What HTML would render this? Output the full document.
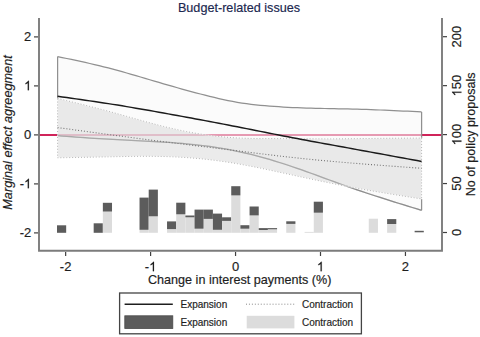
<!DOCTYPE html>
<html><head><meta charset="utf-8"><style>
html,body{margin:0;padding:0;background:#fff;width:480px;height:337px;overflow:hidden}
svg{display:block}
text{font-family:"Liberation Sans", sans-serif;stroke:#1e1e1e;stroke-width:0.18px}
.ttl{stroke:#1c2850}
</style></head><body>
<svg width="480" height="337" viewBox="0 0 480 337">
<rect width="480" height="337" fill="#fff"/>
<text class="ttl" x="239" y="11.7" font-size="13.3" fill="#1c2850" text-anchor="middle" transform="translate(239,0) scale(0.95,1) translate(-239,0)">Budget-related issues</text>
<line x1="39" y1="135.0" x2="442" y2="135.0" stroke="#d0245a" stroke-width="2"/>
<g transform="translate(0,0.3)">
<path d="M57.60,56.27 L62.21,57.23 L66.82,58.20 L71.42,59.17 L76.03,60.15 L80.64,61.15 L85.25,62.17 L89.85,63.21 L94.46,64.27 L99.07,65.37 L103.68,66.49 L108.28,67.66 L112.89,68.86 L117.50,70.10 L122.11,71.38 L126.71,72.68 L131.32,74.01 L135.93,75.35 L140.54,76.70 L145.14,78.07 L149.75,79.43 L154.36,80.78 L158.97,82.14 L163.57,83.48 L168.18,84.81 L172.79,86.13 L177.40,87.44 L182.01,88.73 L186.61,90.01 L191.22,91.27 L195.83,92.50 L200.44,93.71 L205.04,94.90 L209.65,96.06 L214.26,97.17 L218.87,98.25 L223.47,99.27 L228.08,100.24 L232.69,101.14 L237.30,101.98 L241.90,102.74 L246.51,103.41 L251.12,104.00 L255.73,104.52 L260.33,104.98 L264.94,105.39 L269.55,105.76 L274.16,106.11 L278.76,106.43 L283.37,106.73 L287.98,106.99 L292.59,107.23 L297.19,107.43 L301.80,107.60 L306.41,107.76 L311.02,107.89 L315.63,108.00 L320.23,108.10 L324.84,108.20 L329.45,108.28 L334.06,108.37 L338.66,108.46 L343.27,108.55 L347.88,108.65 L352.49,108.76 L357.09,108.89 L361.70,109.03 L366.31,109.18 L370.92,109.35 L375.52,109.52 L380.13,109.70 L384.74,109.89 L389.35,110.09 L393.95,110.30 L398.56,110.51 L403.17,110.72 L407.78,110.94 L412.38,111.16 L416.99,111.38 L421.60,111.60 L421.60,210.03 L416.99,208.63 L412.38,207.22 L407.78,205.81 L403.17,204.39 L398.56,202.97 L393.95,201.54 L389.35,200.10 L384.74,198.64 L380.13,197.17 L375.52,195.69 L370.92,194.19 L366.31,192.67 L361.70,191.12 L357.09,189.56 L352.49,187.97 L347.88,186.35 L343.27,184.71 L338.66,183.05 L334.06,181.38 L329.45,179.69 L324.84,178.00 L320.23,176.31 L315.63,174.63 L311.02,172.95 L306.41,171.30 L301.80,169.66 L297.19,168.05 L292.59,166.47 L287.98,164.93 L283.37,163.43 L278.76,161.96 L274.16,160.55 L269.55,159.17 L264.94,157.85 L260.33,156.57 L255.73,155.34 L251.12,154.17 L246.51,153.05 L241.90,151.98 L237.30,150.97 L232.69,150.03 L228.08,149.14 L223.47,148.31 L218.87,147.54 L214.26,146.83 L209.65,146.16 L205.04,145.55 L200.44,144.98 L195.83,144.46 L191.22,143.98 L186.61,143.53 L182.01,143.12 L177.40,142.75 L172.79,142.40 L168.18,142.08 L163.57,141.78 L158.97,141.50 L154.36,141.24 L149.75,140.99 L145.14,140.75 L140.54,140.53 L135.93,140.30 L131.32,140.08 L126.71,139.86 L122.11,139.64 L117.50,139.40 L112.89,139.16 L108.28,138.90 L103.68,138.63 L99.07,138.35 L94.46,138.05 L89.85,137.74 L85.25,137.43 L80.64,137.10 L76.03,136.77 L71.42,136.44 L66.82,136.10 L62.21,135.75 L57.60,135.41 Z" fill="#f8f8f8" fill-opacity="0.56" stroke="none"/>
<g fill="none" stroke="#909090" stroke-width="1.25">
<path d="M57.60,56.27 L62.21,57.23 L66.82,58.20 L71.42,59.17 L76.03,60.15 L80.64,61.15 L85.25,62.17 L89.85,63.21 L94.46,64.27 L99.07,65.37 L103.68,66.49 L108.28,67.66 L112.89,68.86 L117.50,70.10 L122.11,71.38 L126.71,72.68 L131.32,74.01 L135.93,75.35 L140.54,76.70 L145.14,78.07 L149.75,79.43 L154.36,80.78 L158.97,82.14 L163.57,83.48 L168.18,84.81 L172.79,86.13 L177.40,87.44 L182.01,88.73 L186.61,90.01 L191.22,91.27 L195.83,92.50 L200.44,93.71 L205.04,94.90 L209.65,96.06 L214.26,97.17 L218.87,98.25 L223.47,99.27 L228.08,100.24 L232.69,101.14 L237.30,101.98 L241.90,102.74 L246.51,103.41 L251.12,104.00 L255.73,104.52 L260.33,104.98 L264.94,105.39 L269.55,105.76 L274.16,106.11 L278.76,106.43 L283.37,106.73 L287.98,106.99 L292.59,107.23 L297.19,107.43 L301.80,107.60 L306.41,107.76 L311.02,107.89 L315.63,108.00 L320.23,108.10 L324.84,108.20 L329.45,108.28 L334.06,108.37 L338.66,108.46 L343.27,108.55 L347.88,108.65 L352.49,108.76 L357.09,108.89 L361.70,109.03 L366.31,109.18 L370.92,109.35 L375.52,109.52 L380.13,109.70 L384.74,109.89 L389.35,110.09 L393.95,110.30 L398.56,110.51 L403.17,110.72 L407.78,110.94 L412.38,111.16 L416.99,111.38 L421.60,111.60"/>
<path d="M57.60,135.41 L62.21,135.75 L66.82,136.10 L71.42,136.44 L76.03,136.77 L80.64,137.10 L85.25,137.43 L89.85,137.74 L94.46,138.05 L99.07,138.35 L103.68,138.63 L108.28,138.90 L112.89,139.16 L117.50,139.40 L122.11,139.64 L126.71,139.86 L131.32,140.08 L135.93,140.30 L140.54,140.53 L145.14,140.75 L149.75,140.99 L154.36,141.24 L158.97,141.50 L163.57,141.78 L168.18,142.08 L172.79,142.40 L177.40,142.75 L182.01,143.12 L186.61,143.53 L191.22,143.98 L195.83,144.46 L200.44,144.98 L205.04,145.55 L209.65,146.16 L214.26,146.83 L218.87,147.54 L223.47,148.31 L228.08,149.14 L232.69,150.03 L237.30,150.97 L241.90,151.98 L246.51,153.05 L251.12,154.17 L255.73,155.34 L260.33,156.57 L264.94,157.85 L269.55,159.17 L274.16,160.55 L278.76,161.96 L283.37,163.43 L287.98,164.93 L292.59,166.47 L297.19,168.05 L301.80,169.66 L306.41,171.30 L311.02,172.95 L315.63,174.63 L320.23,176.31 L324.84,178.00 L329.45,179.69 L334.06,181.38 L338.66,183.05 L343.27,184.71 L347.88,186.35 L352.49,187.97 L357.09,189.56 L361.70,191.12 L366.31,192.67 L370.92,194.19 L375.52,195.69 L380.13,197.17 L384.74,198.64 L389.35,200.10 L393.95,201.54 L398.56,202.97 L403.17,204.39 L407.78,205.81 L412.38,207.22 L416.99,208.63 L421.60,210.03"/>
<path d="M57.6,56.27 V98.12"/>
<path d="M421.6,111.60 V137.80 M421.6,198.62 V210.03"/>
</g>
<path d="M57.60,98.12 L62.21,99.25 L66.82,100.37 L71.42,101.50 L76.03,102.64 L80.64,103.78 L85.25,104.93 L89.85,106.10 L94.46,107.28 L99.07,108.48 L103.68,109.70 L108.28,110.93 L112.89,112.19 L117.50,113.47 L122.11,114.77 L126.71,116.07 L131.32,117.38 L135.93,118.68 L140.54,119.97 L145.14,121.26 L149.75,122.52 L154.36,123.76 L158.97,124.97 L163.57,126.14 L168.18,127.27 L172.79,128.35 L177.40,129.38 L182.01,130.36 L186.61,131.29 L191.22,132.17 L195.83,132.98 L200.44,133.75 L205.04,134.45 L209.65,135.09 L214.26,135.68 L218.87,136.20 L223.47,136.66 L228.08,137.05 L232.69,137.38 L237.30,137.65 L241.90,137.86 L246.51,138.02 L251.12,138.14 L255.73,138.22 L260.33,138.27 L264.94,138.30 L269.55,138.31 L274.16,138.30 L278.76,138.30 L283.37,138.29 L287.98,138.29 L292.59,138.31 L297.19,138.34 L301.80,138.39 L306.41,138.43 L311.02,138.48 L315.63,138.53 L320.23,138.57 L324.84,138.59 L329.45,138.60 L334.06,138.59 L338.66,138.56 L343.27,138.51 L347.88,138.46 L352.49,138.40 L357.09,138.34 L361.70,138.28 L366.31,138.22 L370.92,138.17 L375.52,138.13 L380.13,138.08 L384.74,138.04 L389.35,138.01 L393.95,137.97 L398.56,137.94 L403.17,137.91 L407.78,137.88 L412.38,137.85 L416.99,137.83 L421.60,137.80 L421.60,198.62 L416.99,197.89 L412.38,197.16 L407.78,196.43 L403.17,195.70 L398.56,194.96 L393.95,194.21 L389.35,193.46 L384.74,192.70 L380.13,191.94 L375.52,191.16 L370.92,190.37 L366.31,189.56 L361.70,188.75 L357.09,187.91 L352.49,187.07 L347.88,186.20 L343.27,185.32 L338.66,184.42 L334.06,183.50 L329.45,182.57 L324.84,181.63 L320.23,180.67 L315.63,179.71 L311.02,178.74 L306.41,177.75 L301.80,176.76 L297.19,175.77 L292.59,174.76 L287.98,173.76 L283.37,172.75 L278.76,171.75 L274.16,170.75 L269.55,169.76 L264.94,168.78 L260.33,167.82 L255.73,166.88 L251.12,165.97 L246.51,165.08 L241.90,164.23 L237.30,163.41 L232.69,162.63 L228.08,161.90 L223.47,161.21 L218.87,160.56 L214.26,159.96 L209.65,159.41 L205.04,158.89 L200.44,158.43 L195.83,158.00 L191.22,157.62 L186.61,157.28 L182.01,156.98 L177.40,156.72 L172.79,156.51 L168.18,156.34 L163.57,156.20 L158.97,156.11 L154.36,156.04 L149.75,156.01 L145.14,156.01 L140.54,156.02 L135.93,156.06 L131.32,156.12 L126.71,156.18 L122.11,156.26 L117.50,156.35 L112.89,156.44 L108.28,156.53 L103.68,156.63 L99.07,156.72 L94.46,156.80 L89.85,156.89 L85.25,156.98 L80.64,157.07 L76.03,157.15 L71.42,157.24 L66.82,157.33 L62.21,157.41 L57.60,157.50 Z" fill="#dcdcdc" fill-opacity="0.56" stroke="none"/>
<path d="M57.60,135.41 L62.21,135.75 L66.82,136.10 L71.42,136.44 L76.03,136.77 L80.64,137.10 L85.25,137.43 L89.85,137.74 L94.46,138.05 L99.07,138.35 L103.68,138.63 L108.28,138.90 L112.89,139.16 L117.50,139.40 L122.11,139.64 L126.71,139.86 L131.32,140.08 L135.93,140.30 L140.54,140.53 L145.14,140.75 L149.75,140.99 L154.36,141.24 L158.97,141.50 L163.57,141.78 L168.18,142.08 L172.79,142.40 L177.40,142.75 L182.01,143.12 L186.61,143.53 L191.22,143.98 L195.83,144.46 L200.44,144.98 L205.04,145.55 L209.65,146.16 L214.26,146.83 L218.87,147.54 L223.47,148.31 L228.08,149.14 L232.69,150.03 L237.30,150.97 L241.90,151.98 L246.51,153.05 L251.12,154.17 L255.73,155.34 L260.33,156.57 L264.94,157.85 L269.55,159.17 L274.16,160.55 L278.76,161.96 L283.37,163.43 L287.98,164.93 L292.59,166.47 L297.19,168.05 L301.80,169.66 L306.41,171.30 L311.02,172.95 L315.63,174.63 L320.23,176.31 L324.84,178.00 L329.45,179.69 L334.06,181.38 L338.66,183.05 L343.27,184.71 L347.88,186.35 L352.49,187.97 L357.09,189.56 L361.70,191.12 L366.31,192.67 L370.92,194.19 L375.52,195.69 L380.13,197.17 L384.74,198.64 L389.35,200.10 L393.95,201.54 L398.56,202.97 L403.17,204.39 L407.78,205.81 L412.38,207.22 L416.99,208.63 L421.60,210.03" fill="none" stroke="#8a8a8a" stroke-width="1.3" stroke-opacity="0.35"/>
<path d="M57.60,98.12 L62.21,99.25 L66.82,100.37 L71.42,101.50 L76.03,102.64 L80.64,103.78 L85.25,104.93 L89.85,106.10 L94.46,107.28 L99.07,108.48 L103.68,109.70 L108.28,110.93 L112.89,112.19 L117.50,113.47 L122.11,114.77 L126.71,116.07 L131.32,117.38 L135.93,118.68 L140.54,119.97 L145.14,121.26 L149.75,122.52 L154.36,123.76 L158.97,124.97 L163.57,126.14 L168.18,127.27 L172.79,128.35 L177.40,129.38 L182.01,130.36 L186.61,131.29 L191.22,132.17 L195.83,132.98 L200.44,133.75 L205.04,134.45 L209.65,135.09 L214.26,135.68 L218.87,136.20 L223.47,136.66 L228.08,137.05 L232.69,137.38 L237.30,137.65 L241.90,137.86 L246.51,138.02 L251.12,138.14 L255.73,138.22 L260.33,138.27 L264.94,138.30 L269.55,138.31 L274.16,138.30 L278.76,138.30 L283.37,138.29 L287.98,138.29 L292.59,138.31 L297.19,138.34 L301.80,138.39 L306.41,138.43 L311.02,138.48 L315.63,138.53 L320.23,138.57 L324.84,138.59 L329.45,138.60 L334.06,138.59 L338.66,138.56 L343.27,138.51 L347.88,138.46 L352.49,138.40 L357.09,138.34 L361.70,138.28 L366.31,138.22 L370.92,138.17 L375.52,138.13 L380.13,138.08 L384.74,138.04 L389.35,138.01 L393.95,137.97 L398.56,137.94 L403.17,137.91 L407.78,137.88 L412.38,137.85 L416.99,137.83 L421.60,137.80 L421.60,198.62 L416.99,197.89 L412.38,197.16 L407.78,196.43 L403.17,195.70 L398.56,194.96 L393.95,194.21 L389.35,193.46 L384.74,192.70 L380.13,191.94 L375.52,191.16 L370.92,190.37 L366.31,189.56 L361.70,188.75 L357.09,187.91 L352.49,187.07 L347.88,186.20 L343.27,185.32 L338.66,184.42 L334.06,183.50 L329.45,182.57 L324.84,181.63 L320.23,180.67 L315.63,179.71 L311.02,178.74 L306.41,177.75 L301.80,176.76 L297.19,175.77 L292.59,174.76 L287.98,173.76 L283.37,172.75 L278.76,171.75 L274.16,170.75 L269.55,169.76 L264.94,168.78 L260.33,167.82 L255.73,166.88 L251.12,165.97 L246.51,165.08 L241.90,164.23 L237.30,163.41 L232.69,162.63 L228.08,161.90 L223.47,161.21 L218.87,160.56 L214.26,159.96 L209.65,159.41 L205.04,158.89 L200.44,158.43 L195.83,158.00 L191.22,157.62 L186.61,157.28 L182.01,156.98 L177.40,156.72 L172.79,156.51 L168.18,156.34 L163.57,156.20 L158.97,156.11 L154.36,156.04 L149.75,156.01 L145.14,156.01 L140.54,156.02 L135.93,156.06 L131.32,156.12 L126.71,156.18 L122.11,156.26 L117.50,156.35 L112.89,156.44 L108.28,156.53 L103.68,156.63 L99.07,156.72 L94.46,156.80 L89.85,156.89 L85.25,156.98 L80.64,157.07 L76.03,157.15 L71.42,157.24 L66.82,157.33 L62.21,157.41 L57.60,157.50 Z" fill="none" stroke="#fff" stroke-width="1.1" stroke-opacity="0.55"/>
<path d="M57.60,98.12 L62.21,99.25 L66.82,100.37 L71.42,101.50 L76.03,102.64 L80.64,103.78 L85.25,104.93 L89.85,106.10 L94.46,107.28 L99.07,108.48 L103.68,109.70 L108.28,110.93 L112.89,112.19 L117.50,113.47 L122.11,114.77 L126.71,116.07 L131.32,117.38 L135.93,118.68 L140.54,119.97 L145.14,121.26 L149.75,122.52 L154.36,123.76 L158.97,124.97 L163.57,126.14 L168.18,127.27 L172.79,128.35 L177.40,129.38 L182.01,130.36 L186.61,131.29 L191.22,132.17 L195.83,132.98 L200.44,133.75 L205.04,134.45 L209.65,135.09 L214.26,135.68 L218.87,136.20 L223.47,136.66 L228.08,137.05 L232.69,137.38 L237.30,137.65 L241.90,137.86 L246.51,138.02 L251.12,138.14 L255.73,138.22 L260.33,138.27 L264.94,138.30 L269.55,138.31 L274.16,138.30 L278.76,138.30 L283.37,138.29 L287.98,138.29 L292.59,138.31 L297.19,138.34 L301.80,138.39 L306.41,138.43 L311.02,138.48 L315.63,138.53 L320.23,138.57 L324.84,138.59 L329.45,138.60 L334.06,138.59 L338.66,138.56 L343.27,138.51 L347.88,138.46 L352.49,138.40 L357.09,138.34 L361.70,138.28 L366.31,138.22 L370.92,138.17 L375.52,138.13 L380.13,138.08 L384.74,138.04 L389.35,138.01 L393.95,137.97 L398.56,137.94 L403.17,137.91 L407.78,137.88 L412.38,137.85 L416.99,137.83 L421.60,137.80 L421.60,198.62 L416.99,197.89 L412.38,197.16 L407.78,196.43 L403.17,195.70 L398.56,194.96 L393.95,194.21 L389.35,193.46 L384.74,192.70 L380.13,191.94 L375.52,191.16 L370.92,190.37 L366.31,189.56 L361.70,188.75 L357.09,187.91 L352.49,187.07 L347.88,186.20 L343.27,185.32 L338.66,184.42 L334.06,183.50 L329.45,182.57 L324.84,181.63 L320.23,180.67 L315.63,179.71 L311.02,178.74 L306.41,177.75 L301.80,176.76 L297.19,175.77 L292.59,174.76 L287.98,173.76 L283.37,172.75 L278.76,171.75 L274.16,170.75 L269.55,169.76 L264.94,168.78 L260.33,167.82 L255.73,166.88 L251.12,165.97 L246.51,165.08 L241.90,164.23 L237.30,163.41 L232.69,162.63 L228.08,161.90 L223.47,161.21 L218.87,160.56 L214.26,159.96 L209.65,159.41 L205.04,158.89 L200.44,158.43 L195.83,158.00 L191.22,157.62 L186.61,157.28 L182.01,156.98 L177.40,156.72 L172.79,156.51 L168.18,156.34 L163.57,156.20 L158.97,156.11 L154.36,156.04 L149.75,156.01 L145.14,156.01 L140.54,156.02 L135.93,156.06 L131.32,156.12 L126.71,156.18 L122.11,156.26 L117.50,156.35 L112.89,156.44 L108.28,156.53 L103.68,156.63 L99.07,156.72 L94.46,156.80 L89.85,156.89 L85.25,156.98 L80.64,157.07 L76.03,157.15 L71.42,157.24 L66.82,157.33 L62.21,157.41 L57.60,157.50 Z" fill="none" stroke="#b4b4b4" stroke-width="1" stroke-dasharray="1 1.95"/>
<path d="M57.60,127.26 L62.21,127.90 L66.82,128.53 L71.42,129.16 L76.03,129.79 L80.64,130.42 L85.25,131.05 L89.85,131.68 L94.46,132.30 L99.07,132.93 L103.68,133.55 L108.28,134.17 L112.89,134.79 L117.50,135.40 L122.11,136.01 L126.71,136.62 L131.32,137.23 L135.93,137.84 L140.54,138.44 L145.14,139.03 L149.75,139.63 L154.36,140.22 L158.97,140.81 L163.57,141.39 L168.18,141.97 L172.79,142.55 L177.40,143.12 L182.01,143.69 L186.61,144.26 L191.22,144.83 L195.83,145.39 L200.44,145.96 L205.04,146.52 L209.65,147.09 L214.26,147.65 L218.87,148.22 L223.47,148.79 L228.08,149.36 L232.69,149.94 L237.30,150.51 L241.90,151.09 L246.51,151.67 L251.12,152.25 L255.73,152.83 L260.33,153.40 L264.94,153.96 L269.55,154.52 L274.16,155.08 L278.76,155.62 L283.37,156.15 L287.98,156.68 L292.59,157.18 L297.19,157.68 L301.80,158.16 L306.41,158.63 L311.02,159.09 L315.63,159.54 L320.23,159.98 L324.84,160.41 L329.45,160.83 L334.06,161.24 L338.66,161.64 L343.27,162.04 L347.88,162.42 L352.49,162.80 L357.09,163.18 L361.70,163.55 L366.31,163.91 L370.92,164.27 L375.52,164.62 L380.13,164.97 L384.74,165.32 L389.35,165.66 L393.95,166.00 L398.56,166.34 L403.17,166.68 L407.78,167.01 L412.38,167.34 L416.99,167.68 L421.60,168.01" fill="none" stroke="#747474" stroke-width="1.1" stroke-dasharray="1 1.95"/>
<path d="M57.60,96.01 L62.21,96.65 L66.82,97.29 L71.42,97.94 L76.03,98.59 L80.64,99.24 L85.25,99.90 L89.85,100.56 L94.46,101.24 L99.07,101.92 L103.68,102.62 L108.28,103.33 L112.89,104.06 L117.50,104.79 L122.11,105.54 L126.71,106.31 L131.32,107.08 L135.93,107.87 L140.54,108.66 L145.14,109.46 L149.75,110.27 L154.36,111.09 L158.97,111.91 L163.57,112.74 L168.18,113.57 L172.79,114.41 L177.40,115.24 L182.01,116.08 L186.61,116.93 L191.22,117.77 L195.83,118.63 L200.44,119.48 L205.04,120.34 L209.65,121.21 L214.26,122.08 L218.87,122.96 L223.47,123.84 L228.08,124.73 L232.69,125.62 L237.30,126.52 L241.90,127.43 L246.51,128.34 L251.12,129.25 L255.73,130.17 L260.33,131.08 L264.94,132.00 L269.55,132.91 L274.16,133.82 L278.76,134.72 L283.37,135.62 L287.98,136.51 L292.59,137.40 L297.19,138.27 L301.80,139.14 L306.41,140.01 L311.02,140.87 L315.63,141.72 L320.23,142.57 L324.84,143.41 L329.45,144.26 L334.06,145.10 L338.66,145.94 L343.27,146.77 L347.88,147.61 L352.49,148.45 L357.09,149.29 L361.70,150.13 L366.31,150.98 L370.92,151.82 L375.52,152.66 L380.13,153.51 L384.74,154.35 L389.35,155.20 L393.95,156.04 L398.56,156.89 L403.17,157.74 L407.78,158.58 L412.38,159.43 L416.99,160.28 L421.60,161.13" fill="none" stroke="#1a1a1a" stroke-width="1.45"/>
<rect x="57.00" y="225.00" width="9.17" height="7.50" fill="#5c5c5c"/><rect x="93.68" y="223.00" width="9.17" height="9.50" fill="#5c5c5c"/><rect x="102.85" y="211.25" width="9.17" height="21.25" fill="#dcdcdc"/><rect x="102.85" y="202.50" width="9.17" height="8.75" fill="#5c5c5c"/><rect x="139.53" y="229.50" width="9.17" height="3.00" fill="#dcdcdc"/><rect x="139.53" y="197.30" width="9.17" height="32.20" fill="#5c5c5c"/><rect x="148.70" y="216.00" width="9.17" height="16.50" fill="#dcdcdc"/><rect x="148.70" y="189.30" width="9.17" height="26.70" fill="#5c5c5c"/><rect x="167.04" y="228.80" width="9.17" height="3.70" fill="#dcdcdc"/><rect x="167.04" y="221.10" width="9.17" height="7.70" fill="#5c5c5c"/><rect x="176.21" y="214.00" width="9.17" height="18.50" fill="#dcdcdc"/><rect x="176.21" y="202.40" width="9.17" height="11.60" fill="#5c5c5c"/><rect x="185.38" y="217.00" width="9.17" height="15.50" fill="#dcdcdc"/><rect x="185.38" y="215.20" width="9.17" height="1.80" fill="#5c5c5c"/><rect x="194.55" y="228.40" width="9.17" height="4.10" fill="#dcdcdc"/><rect x="194.55" y="209.30" width="9.17" height="19.10" fill="#5c5c5c"/><rect x="203.72" y="218.60" width="9.17" height="13.90" fill="#dcdcdc"/><rect x="203.72" y="209.30" width="9.17" height="9.30" fill="#5c5c5c"/><rect x="212.89" y="229.50" width="9.17" height="3.00" fill="#dcdcdc"/><rect x="212.89" y="213.30" width="9.17" height="16.20" fill="#5c5c5c"/><rect x="222.06" y="220.60" width="9.17" height="11.90" fill="#dcdcdc"/><rect x="222.06" y="217.00" width="9.17" height="3.60" fill="#5c5c5c"/><rect x="231.23" y="195.10" width="9.17" height="37.40" fill="#dcdcdc"/><rect x="231.23" y="185.90" width="9.17" height="9.20" fill="#5c5c5c"/><rect x="240.40" y="228.40" width="9.17" height="4.10" fill="#dcdcdc"/><rect x="240.40" y="224.90" width="9.17" height="3.50" fill="#5c5c5c"/><rect x="249.57" y="215.10" width="9.17" height="17.40" fill="#dcdcdc"/><rect x="249.57" y="206.20" width="9.17" height="8.90" fill="#5c5c5c"/><rect x="258.74" y="229.70" width="9.17" height="2.80" fill="#dcdcdc"/><rect x="258.74" y="227.80" width="9.17" height="1.90" fill="#5c5c5c"/><rect x="267.91" y="229.00" width="9.17" height="3.50" fill="#dcdcdc"/><rect x="267.91" y="227.80" width="9.17" height="1.20" fill="#5c5c5c"/><rect x="286.25" y="223.60" width="9.17" height="8.90" fill="#dcdcdc"/><rect x="286.25" y="221.00" width="9.17" height="2.60" fill="#5c5c5c"/><rect x="304.59" y="231.60" width="9.17" height="0.90" fill="#dcdcdc"/><rect x="313.76" y="212.40" width="9.17" height="20.10" fill="#dcdcdc"/><rect x="313.76" y="201.40" width="9.17" height="11.00" fill="#5c5c5c"/><rect x="368.78" y="218.40" width="9.17" height="14.10" fill="#dcdcdc"/><rect x="387.12" y="223.70" width="9.17" height="8.80" fill="#dcdcdc"/><rect x="387.12" y="218.80" width="9.17" height="4.90" fill="#5c5c5c"/><rect x="414.63" y="230.50" width="9.17" height="1.50" fill="#5c5c5c"/>
</g>
<g stroke="#7c7c7c" stroke-width="1.9" fill="none">
<path d="M39,18 V250.8 H442 V18"/>
</g>
<g stroke="#404040" stroke-width="1.2">
<line x1="34" y1="36.90" x2="38" y2="36.90"/><line x1="34" y1="85.90" x2="38" y2="85.90"/><line x1="34" y1="134.90" x2="38" y2="134.90"/><line x1="34" y1="183.90" x2="38" y2="183.90"/><line x1="34" y1="232.90" x2="38" y2="232.90"/><line x1="65.65" y1="252" x2="65.65" y2="256"/><line x1="150.60" y1="252" x2="150.60" y2="256"/><line x1="235.55" y1="252" x2="235.55" y2="256"/><line x1="320.50" y1="252" x2="320.50" y2="256"/><line x1="405.45" y1="252" x2="405.45" y2="256"/><line x1="443" y1="232.50" x2="447" y2="232.50"/><line x1="443" y1="183.55" x2="447" y2="183.55"/><line x1="443" y1="134.60" x2="447" y2="134.60"/><line x1="443" y1="85.65" x2="447" y2="85.65"/><line x1="443" y1="36.70" x2="447" y2="36.70"/></g>
<g font-size="13" fill="#1e1e1e"><text x="31.3" y="41.20" text-anchor="end">2</text><text x="31.3" y="90.20" text-anchor="end"> </text><path transform="translate(24.07,90.20) scale(0.006348,-0.006348)" d="M763,0 H583 V1147 Q518,1085 412,1023 Q307,961 223,930 V1104 Q374,1175 487,1276 Q600,1377 647,1472 H763 Z" fill="#1e1e1e" stroke="#1e1e1e" stroke-width="28.4"/><text x="31.3" y="139.20" text-anchor="end">0</text><text x="31.3" y="188.20" text-anchor="end">- </text><path transform="translate(24.07,188.20) scale(0.006348,-0.006348)" d="M763,0 H583 V1147 Q518,1085 412,1023 Q307,961 223,930 V1104 Q374,1175 487,1276 Q600,1377 647,1472 H763 Z" fill="#1e1e1e" stroke="#1e1e1e" stroke-width="28.4"/><text x="31.3" y="237.20" text-anchor="end">-2</text><text x="65.65" y="271.2" text-anchor="middle">-2</text><text x="150.60" y="271.2" text-anchor="middle">- </text><path transform="translate(149.15,271.20) scale(0.006348,-0.006348)" d="M763,0 H583 V1147 Q518,1085 412,1023 Q307,961 223,930 V1104 Q374,1175 487,1276 Q600,1377 647,1472 H763 Z" fill="#1e1e1e" stroke="#1e1e1e" stroke-width="28.4"/><text x="235.55" y="271.2" text-anchor="middle">0</text><text x="320.50" y="271.2" text-anchor="middle"> </text><path transform="translate(316.89,271.20) scale(0.006348,-0.006348)" d="M763,0 H583 V1147 Q518,1085 412,1023 Q307,961 223,930 V1104 Q374,1175 487,1276 Q600,1377 647,1472 H763 Z" fill="#1e1e1e" stroke="#1e1e1e" stroke-width="28.4"/><text x="405.45" y="271.2" text-anchor="middle">2</text><g transform="translate(461.4,232.50) rotate(-90)"><text text-anchor="middle">0</text></g><g transform="translate(461.4,183.55) rotate(-90)"><text text-anchor="middle">50</text></g><g transform="translate(461.4,134.60) rotate(-90)"><text text-anchor="middle"> 00</text><path transform="translate(-10.84,0.00) scale(0.006348,-0.006348)" d="M763,0 H583 V1147 Q518,1085 412,1023 Q307,961 223,930 V1104 Q374,1175 487,1276 Q600,1377 647,1472 H763 Z" fill="#1e1e1e" stroke="#1e1e1e" stroke-width="28.4"/></g><g transform="translate(461.4,85.65) rotate(-90)"><text text-anchor="middle"> 50</text><path transform="translate(-10.84,0.00) scale(0.006348,-0.006348)" d="M763,0 H583 V1147 Q518,1085 412,1023 Q307,961 223,930 V1104 Q374,1175 487,1276 Q600,1377 647,1472 H763 Z" fill="#1e1e1e" stroke="#1e1e1e" stroke-width="28.4"/></g><g transform="translate(461.4,36.70) rotate(-90)"><text text-anchor="middle">200</text></g></g>
<text x="239.7" y="283.7" font-size="12.6" fill="#1e1e1e" text-anchor="middle">Change in interest payments (%)</text><text transform="translate(11.9,132.5) rotate(-90)" font-size="12.7" font-style="italic" fill="#1e1e1e" text-anchor="middle">Marginal effect agreegment</text><text transform="translate(474.5,134.3) rotate(-90)" font-size="12.6" fill="#1e1e1e" text-anchor="middle">No of policy proposals</text>
<rect x="119.6" y="293" width="241.8" height="40.8" fill="#fff" stroke="#444" stroke-width="1.3"/>
<line x1="124.6" y1="304.3" x2="172.8" y2="304.3" stroke="#1e1e1e" stroke-width="1.4"/>
<rect x="124.8" y="315.8" width="48" height="12.7" fill="#5c5c5c" stroke="#4a4a4a" stroke-width="0.8"/>
<line x1="246" y1="304.2" x2="295" y2="304.2" stroke="#888" stroke-width="1" stroke-dasharray="1 1.95"/>
<rect x="246.7" y="315.8" width="47.7" height="12.6" fill="#dcdcdc"/>
<g font-size="10" fill="#1e1e1e">
<text x="180.5" y="308.1">Expansion</text>
<text x="180.5" y="326.3">Expansion</text>
<text x="302" y="308.1">Contraction</text>
<text x="302" y="326.3">Contraction</text>
</g>
</svg></body></html>
